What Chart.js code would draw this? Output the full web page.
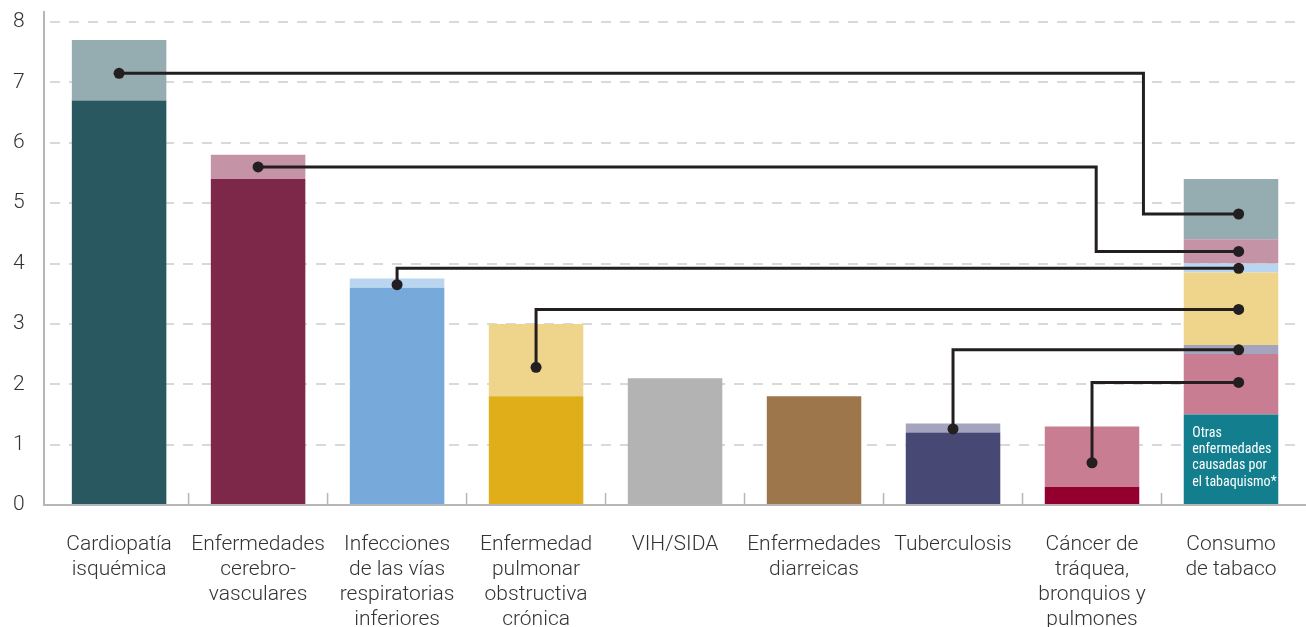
<!DOCTYPE html>
<html>
<head>
<meta charset="utf-8">
<script src="https://cdn.jsdelivr.net/npm/chart.js@4"></script>
<style>
html,body{margin:0;padding:0;background:#fff;}
#wrap{width:1306px;height:627px;position:relative;}
</style>
</head>
<body>
<div id="wrap"><canvas id="c"></canvas></div>
<script>
// ---- data ----
const categories = [
  ['Cardiopatía','isquémica'],
  ['Enfermedades','cerebro-','vasculares'],
  ['Infecciones','de las vías','respiratorias','inferiores'],
  ['Enfermedad','pulmonar','obstructiva','crónica'],
  ['VIH/SIDA'],
  ['Enfermedades','diarreicas'],
  ['Tuberculosis'],
  ['Cáncer de','tráquea,','bronquios y','pulmones'],
  ['Consumo','de tabaco']
];
// deaths (millions) not attributable to tobacco (dark part)
const baseValues = [6.7, 5.4, 3.6, 1.8, 2.1, 1.8, 1.2, 0.3];
// deaths attributable to tobacco (light part)
const tobaccoValues = [1.0, 0.4, 0.15, 1.2, 0, 0, 0.15, 1.0];
// other diseases caused by smoking (bottom of tobacco bar)
const otherTobacco = 1.5;
// stacking order of tobacco segments, bottom to top
const tobaccoOrder = [7, 6, 3, 2, 1, 0];
// connector dots
const sourceDot = [7.15, 5.6, 3.65, 2.28, null, null, 1.26, 0.7];
const targetDot = [4.82, 4.2, 3.92, 3.24, null, null, 2.57, 2.03];
const elbowX   = [7.37, 7.03, 2, 3, null, null, 6, 7];
const targetX = 8.055;
const yTicks = [0,1,2,3,4,5,6,7,8];
const noteLines = ['Otras','enfermedades','causadas por','el tabaquismo*'];

// ---- styles ----
const darkColors  = ['#2a5860','#7e2849','#77aadb','#dfae19','#b3b3b3','#9e764c','#474874','#93002f','#137f8e'];
const lightColors = ['#95adb0','#c493a5','#b9d5ef','#efd58c','#b3b3b3','#9e764c','#a4a4be','#c97d93'];
const lineColor = '#231f20';

const N = categories.length;
const datasets = [];
const barCommon = { order: 1, stack: 's', grouped: false };
datasets.push(Object.assign({
  label: 'base',
  data: baseValues.concat([otherTobacco]),
  backgroundColor: darkColors
}, barCommon));
datasets.push(Object.assign({
  label: 'tabaco',
  data: tobaccoValues.concat([null]),
  backgroundColor: lightColors
}, barCommon));
tobaccoOrder.forEach(idx => {
  const d = new Array(N).fill(null);
  d[N-1] = tobaccoValues[idx];
  datasets.push(Object.assign({label: 'seg'+idx, data: d, backgroundColor: lightColors[idx]}, barCommon));
});
sourceDot.forEach((s, i) => {
  if (s === null) return;
  const pts = [{x: i, y: s}];
  if (elbowX[i] !== i) pts.push({x: elbowX[i], y: s});
  pts.push({x: elbowX[i], y: targetDot[i]});
  pts.push({x: targetX, y: targetDot[i]});
  const radii = pts.map((p, k) => (k === 0 || k === pts.length-1) ? 5.5 : 0);
  datasets.push({
    type: 'line', label: 'conn'+i, data: pts, xAxisID: 'xl', yAxisID: 'yl',
    borderColor: lineColor, borderWidth: 3, backgroundColor: lineColor,
    pointRadius: radii, pointBackgroundColor: lineColor, pointBorderWidth: 0,
    fill: false, tension: 0, borderJoinStyle: 'miter', order: 0
  });
});

const framePlugin = {
  id: 'frame',
  afterDatasetsDraw(chart) {
    const {ctx, chartArea: a} = chart;
    const xs = chart.scales.x;
    const ax = a.left - 5.6;
    ctx.save();
    ctx.strokeStyle = '#b6b6b6';
    ctx.lineWidth = 2;
    ctx.beginPath();
    ctx.moveTo(ax, 11); ctx.lineTo(ax, a.bottom); ctx.lineTo(chart.width, a.bottom);
    ctx.stroke();
    ctx.lineWidth = 1.5;
    ctx.beginPath();
    for (let i = 1; i < N; i++) {
      const px = (xs.getPixelForValue(i-1) + xs.getPixelForValue(i)) / 2;
      ctx.moveTo(px, a.bottom - 12); ctx.lineTo(px, a.bottom);
    }
    ctx.stroke();
    // note inside tobacco bar
    const el = chart.getDatasetMeta(0).data[N-1];
    const left = el.x - el.width/2 + 8.5;
    ctx.fillStyle = '#ffffff';
    ctx.font = '14px "Liberation Sans Narrow", "Arial Narrow", "Roboto Condensed", Roboto, sans-serif';
    ctx.textBaseline = 'middle';
    ctx.textAlign = 'left';
    noteLines.forEach((t, k) => ctx.fillText(t, left, el.y + 19 + k*16.2));
    ctx.restore();
  }
};

new Chart(document.getElementById('c'), {
  type: 'bar',
  data: { labels: categories, datasets },
  options: {
    responsive: true, maintainAspectRatio: false, animation: false,
    layout: { padding: { top: 22, right: 2, left: 13, bottom: 0 } },
    barPercentage: 0.68, categoryPercentage: 1,
    plugins: { legend: { display: false }, tooltip: { enabled: false } },
    scales: {
      x: {
        stacked: true, offset: true,
        grid: { display: false, drawTicks: false },
        border: { display: false },
        ticks: { color: '#333', padding: 27, maxRotation: 0, autoSkip: false,
          font: { family: 'Roboto', size: 21, weight: '300', lineHeight: 1.2 } },
        afterFit: s => { s.height = 122; }
      },
      y: {
        stacked: true, min: 0, max: 8, z: 1,
        afterBuildTicks: s => { s.ticks = yTicks.map(v => ({value: v})); },
        grid: { drawTicks: false, lineWidth: 2,
          color: c => c.tick && c.tick.value === 0 ? 'rgba(0,0,0,0)' : 'rgba(0,0,0,0.15)' },
        border: { display: false, dash: [10, 9] },
        ticks: { color: '#333', padding: 0, crossAlign: 'far',
          font: { family: 'Roboto', size: 21, weight: '300' } },
        afterFit: s => { s.width = 36.6; }
      },
      xl: { type: 'linear', display: false, min: -0.5, max: 8.5, offset: false,
        grid: { offset: false } },
      yl: { type: 'linear', display: false, min: 0, max: 8, beginAtZero: false }
    }
  },
  plugins: [framePlugin]
});
</script>
</body>
</html>
